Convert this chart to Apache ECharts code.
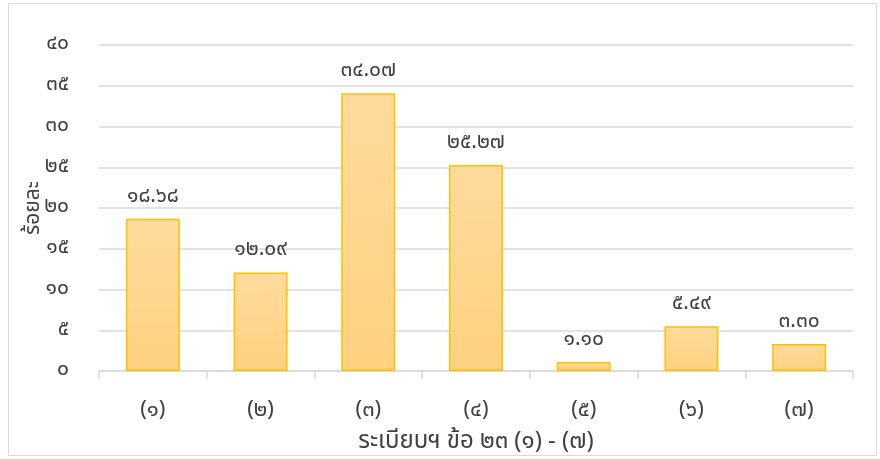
<!DOCTYPE html>
<html><head><meta charset="utf-8">
<script src="https://cdn.jsdelivr.net/npm/echarts@6/dist/echarts.min.js"></script>
<style>html,body{margin:0;padding:0;background:#fff}#c{width:880px;height:459px}</style>
</head><body><div id="c"></div>
<script>
const categories = ['(๑)','(๒)','(๓)','(๔)','(๕)','(๖)','(๗)'];
const values = [18.68, 12.09, 34.07, 25.27, 1.10, 5.49, 3.30];
const yTickLabels = ['๐','๕','๑๐','๑๕','๒๐','๒๕','๓๐','๓๕','๔๐'];
const xTitle = 'ระเบียบฯ ข้อ ๒๓ (๑) - (๗)';
const yTitle = 'ร้อยละ';

const thaiDigits = '๐๑๒๓๔๕๖๗๘๙';
const toThai = s => String(s).replace(/[0-9]/g, d => thaiDigits[+d]);
const FONT = "'Noto Sans Thai','Noto Sans','DejaVu Sans',sans-serif";
const chart = echarts.init(document.getElementById('c'), null, {renderer:'canvas'});
chart.setOption({
  animation:false,
  textStyle:{fontFamily:FONT},
  graphic:[{type:'rect',shape:{x:8.5,y:3.5,width:868,height:452},style:{fill:'none',stroke:'#d9d9d9',lineWidth:1}}],
  grid:{left:99,right:27,top:45,bottom:88,containLabel:false,outerBoundsMode:'none'},
  xAxis:{type:'category',data:categories,
    axisLine:{lineStyle:{color:'#d9d9d9',width:1.5}},
    axisTick:{show:true,length:8,lineStyle:{color:'#d9d9d9',width:1.5}},
    axisLabel:{color:'#404040',fontSize:22,margin:30,fontFamily:FONT},
    name:xTitle,nameLocation:'middle',nameGap:60,nameMoveOverlap:false,
    nameTextStyle:{color:'#404040',fontSize:24,fontFamily:FONT}},
  yAxis:{type:'value',min:0,max:40,interval:5,
    axisLine:{show:false},axisTick:{show:false},
    splitLine:{lineStyle:{color:'#d9d9d9',width:1.5}},
    axisLabel:{color:'#404040',fontSize:21,margin:30,fontFamily:FONT,
      formatter:v=>yTickLabels[Math.round(v/5)]},
    name:yTitle,nameLocation:'middle',nameGap:54,nameRotate:90,nameMoveOverlap:false,
    nameTextStyle:{color:'#404040',fontSize:21,fontFamily:FONT}},
  series:[{type:'bar',data:values,barWidth:54,
    itemStyle:{borderColor:'#ffc000',borderWidth:1.5,
      color:new echarts.graphic.LinearGradient(0,0,0,1,[{offset:0,color:'#fedb9c'},{offset:1,color:'#fdd17f'}])},
    label:{show:true,position:'top',distance:11,color:'#404040',fontSize:21,fontFamily:FONT,
      formatter:p=>toThai(p.value.toFixed(2))}}]
});
</script></body></html>
